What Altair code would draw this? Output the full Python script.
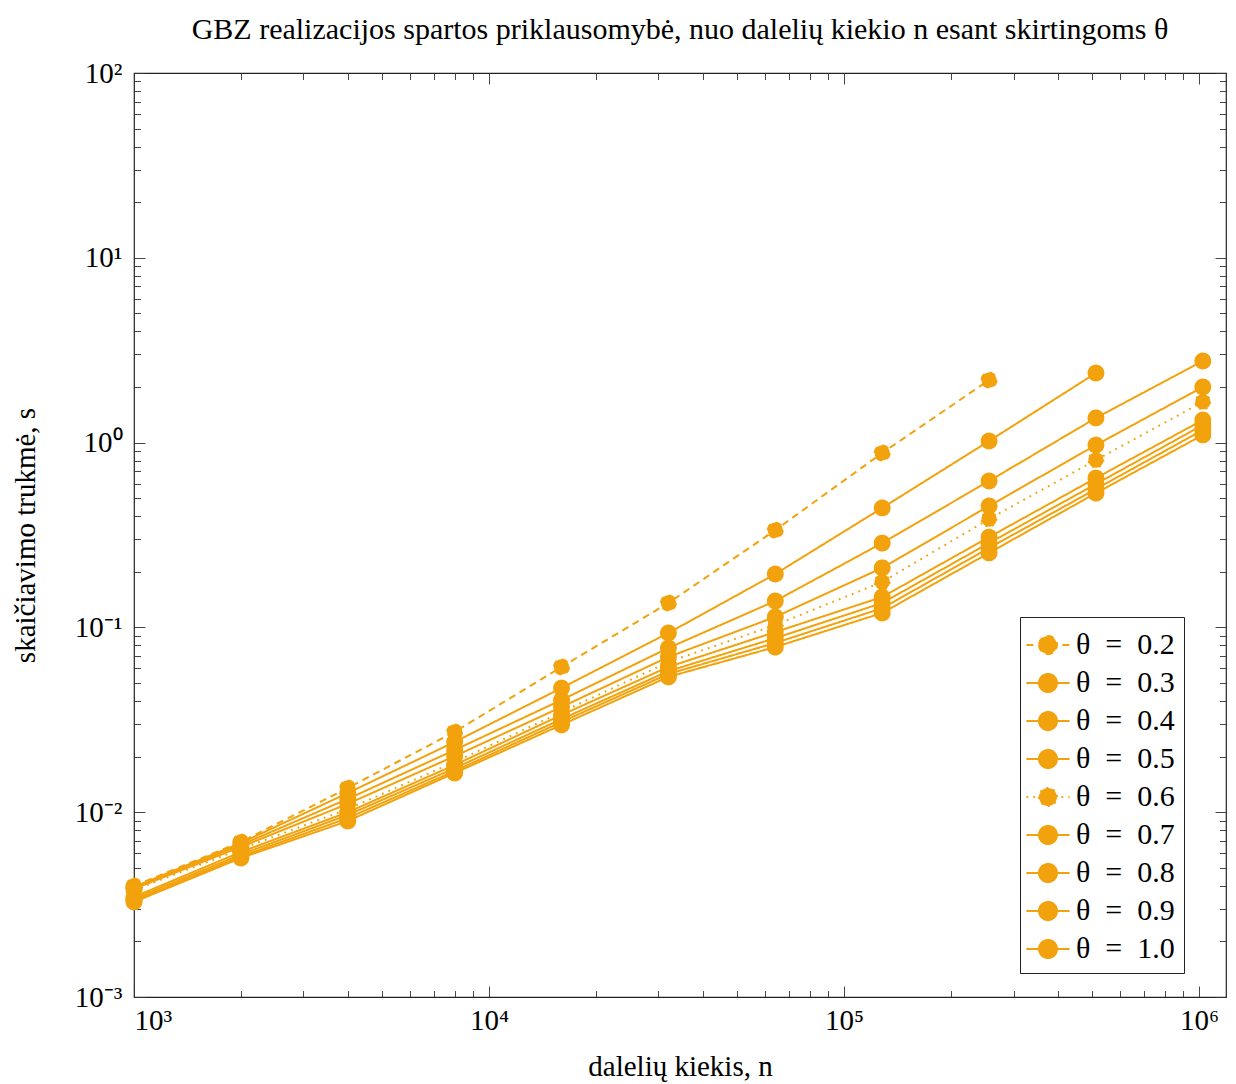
import altair as alt
import pandas as pd

ORANGE = "#f2a20c"
FONT = "Liberation Serif"

n_values = [1000, 2000, 4000, 8000, 16000, 32000, 64000, 128000, 256000, 512000, 1024000]
thetas = ["0.2", "0.3", "0.4", "0.5", "0.6", "0.7", "0.8", "0.9", "1.0"]

t_02 = [0.00399, 0.0069, 0.01352, 0.0272, 0.0611, 0.1355, 0.336, 0.879, 2.18]
t_03 = [0.00394, 0.00681, 0.0127, 0.024, 0.047, 0.0933, 0.1945, 0.443, 1.02, 2.38]
t_04 = [0.0039, 0.00665, 0.0118, 0.0217, 0.0405, 0.0774, 0.139, 0.286, 0.62, 1.36, 2.765]
t_05 = [0.00385, 0.00649, 0.0111, 0.0201, 0.0371, 0.0692, 0.114, 0.210, 0.454, 0.97, 2.0]
t_06 = [0.00379, 0.00632, 0.0104, 0.0187, 0.0348, 0.065, 0.103, 0.176, 0.386, 0.805, 1.66]
t_07 = [0.00348, 0.00609, 0.0100, 0.018, 0.0336, 0.0611, 0.0944, 0.146, 0.308, 0.643, 1.325]
t_08 = [0.0034, 0.0059, 0.00966, 0.0173, 0.0319, 0.058, 0.0875, 0.1355, 0.286, 0.597, 1.245]
t_09 = [0.00333, 0.00575, 0.0093, 0.0167, 0.0308, 0.056, 0.0824, 0.127, 0.269, 0.561, 1.17]
t_10 = [0.00327, 0.00565, 0.00896, 0.0163, 0.0297, 0.054, 0.0783, 0.1197, 0.253, 0.533, 1.10]

series = [t_02, t_03, t_04, t_05, t_06, t_07, t_08, t_09, t_10]
dash_styles = [[7, 5], [1, 0], [1, 0], [1, 0], [1.8, 5.2], [1, 0], [1, 0], [1, 0], [1, 0]]

x_major = [1e3, 1e4, 1e5, 1e6]
y_major = [1e-3, 1e-2, 1e-1, 1e0, 1e1, 1e2]
x_ticks = [m * 10 ** k for k in range(3, 7) for m in range(1, 10) if m * 10 ** k <= 1.19e6]
y_ticks = [m * 10.0 ** k for k in range(-3, 3) for m in range(1, 10) if m * 10.0 ** k <= 100.0001]

rows = []
for th, vals in zip(thetas, series):
    for n, t in zip(n_values, vals):
        rows.append({"n": n, "t": t, "theta": th})
df = pd.DataFrame(rows)

W, H = 1092, 924
sup = "['⁻³','⁻²','⁻¹','⁰','¹','²','³','⁴','⁵','⁶'][round(log(datum.value)/LN10)+3]"
label_expr = "'10' + " + sup
is_major = "abs(log(datum.value)/LN10 - round(log(datum.value)/LN10)) < 0.001"

xscale = alt.Scale(type="log", domain=[1000, 1190000], nice=False)
yscale = alt.Scale(type="log", domain=[0.001, 100], nice=False)
dash_scale = alt.Scale(domain=thetas, range=dash_styles)

tick_size = {"condition": {"test": is_major, "value": 11}, "value": 6.5}

def tick_axis(orient, offset, values):
    return alt.Axis(orient=orient, offset=offset, values=values, labels=False,
                    domain=False, grid=False, title=None, tickColor="#333",
                    tickWidth=0.9, tickSize=tick_size)

sym_path = "M-1.2,0H1.2M-0.5,0A0.5,0.5,0,1,0,0.5,0A0.5,0.5,0,1,0,-0.5,0Z"

base = alt.Chart(df)

lines = base.mark_line(color=ORANGE, strokeWidth=2).encode(
    x=alt.X("n:Q", scale=xscale,
            axis=alt.Axis(orient="bottom", values=x_major, labelExpr=label_expr,
                          ticks=False, domain=False, grid=False,
                          title="dalelių kiekis, n", labelFont=FONT, labelFontSize=29,
                          labelColor="black", labelPadding=9,
                          titleFont=FONT, titleFontSize=29, titleFontWeight="normal",
                          titleColor="black", titlePadding=17)),
    y=alt.Y("t:Q", scale=yscale,
            axis=alt.Axis(orient="left", values=y_major, labelExpr=label_expr,
                          ticks=False, domain=False, grid=False,
                          title="skaičiavimo trukmė, s", labelFont=FONT, labelFontSize=29,
                          labelColor="black", labelPadding=12,
                          titleFont=FONT, titleFontSize=29, titleFontWeight="normal",
                          titleColor="black", titlePadding=34)),
    strokeDash=alt.StrokeDash("theta:N", scale=dash_scale,
                              legend=alt.Legend(title=None, orient="none",
                                                legendX=886, legendY=544,
                                                symbolType=sym_path, symbolSize=1296,
                                                symbolFillColor=ORANGE,
                                                symbolStrokeColor=ORANGE,
                                                symbolStrokeWidth=2,
                                                labelExpr="'θ\u2002=\u2002' + datum.label",
                                                labelFont=FONT, labelFontSize=30,
                                                labelColor="black",
                                                strokeColor="#222", fillColor="white",
                                                padding=9, rowPadding=4, labelOffset=9)),
    detail="theta:N",
)

points = base.mark_point(filled=True, fill=ORANGE, stroke=ORANGE, strokeWidth=1.5,
                         size=235, opacity=1).encode(
    x=alt.X("n:Q", scale=xscale, axis=tick_axis("top", -H, x_ticks)),
    y=alt.Y("t:Q", scale=yscale, axis=tick_axis("right", -W, y_ticks)),
    strokeDash=alt.StrokeDash("theta:N", scale=dash_scale, legend=None),
)

ghost = base.mark_point(opacity=0).encode(
    x=alt.X("n:Q", scale=xscale, axis=tick_axis("bottom", -H, x_ticks)),
    y=alt.Y("t:Q", scale=yscale, axis=tick_axis("left", -W, y_ticks)),
)

chart = alt.layer(lines, points, ghost).resolve_axis(
    x="independent", y="independent"
).properties(
    width=W, height=H,
    title=alt.TitleParams("GBZ realizacijos spartos priklausomybė, nuo dalelių kiekio n esant skirtingoms θ",
                          font=FONT, fontSize=30, fontWeight="normal", color="black",
                          anchor="middle", offset=14),
    padding={"left": 134, "top": 73, "right": 10, "bottom": 87},
    autosize="none",
).configure_view(stroke="#222", strokeWidth=1.2)

chart.save("out.html", embed_options={"renderer": "svg", "actions": False})
